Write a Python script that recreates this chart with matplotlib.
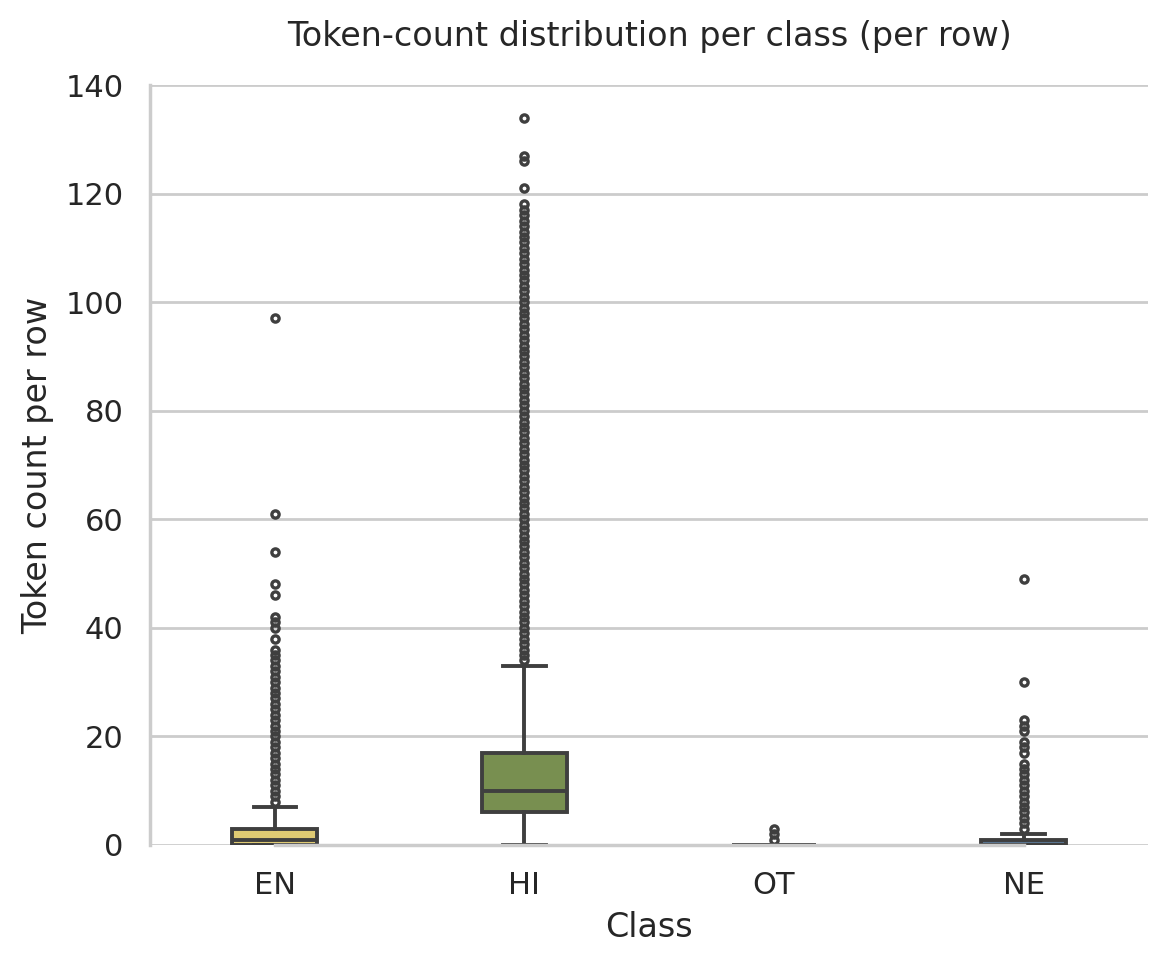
import matplotlib
matplotlib.use("Agg")
import matplotlib.pyplot as plt


classes = ["EN", "HI", "OT", "NE"]
q1 = [0, 6, 0, 0]
medians = [1, 10, 0, 0]
q3 = [3, 17, 0, 1]
whisker_lo = [0, 0, 0, 0]
whisker_hi = [7, 33, 0, 2]

fliers_en = [8, 9, 10, 11, 12, 13, 14, 15, 16, 17, 18, 19, 20, 21, 22, 23, 24, 25,
             26, 27, 28, 29, 30, 31, 32, 33, 34, 35, 36, 38, 40, 41, 42, 46, 48, 54,
             61, 97]
fliers_hi = [34, 35, 36, 37, 38, 39, 40, 41, 42, 43, 44, 45, 46, 47, 48, 49, 50, 51,
             52, 53, 54, 55, 56, 57, 58, 59, 60, 61, 62, 63, 64, 65, 66, 67, 68, 69,
             70, 71, 72, 73, 74, 75, 76, 77, 78, 79, 80, 81, 82, 83, 84, 85, 86, 87,
             88, 89, 90, 91, 92, 93, 94, 95, 96, 97, 98, 99, 100, 101, 102, 103, 104,
             105, 106, 107, 108, 109, 110, 111, 112, 113, 114, 115, 116, 117, 118,
             121, 126, 127, 134]
fliers_ot = [1, 2, 3]
fliers_ne = [3, 4, 5, 6, 7, 8, 9, 10, 11, 12, 13, 14, 15, 17, 18, 19, 21, 22, 23,
             30, 49]
fliers = [fliers_en, fliers_hi, fliers_ot, fliers_ne]

colors = ["#dfca73", "#788f50", "#b9a0a8", "#59748f"]
line_c = "#3f3f3f"
text_c = "#262626"
grid_c = "#cccccc"

plt.rcParams["font.family"] = "DejaVu Sans"
plt.rcParams["text.color"] = text_c
plt.rcParams["axes.labelcolor"] = text_c
plt.rcParams["xtick.color"] = text_c
plt.rcParams["ytick.color"] = text_c

fig = plt.figure(figsize=(5.835, 4.83), dpi=200)
ax = fig.add_axes([0.1285, 0.1253, 0.8555, 0.7867])

stats = []
for i, name in enumerate(classes):
    stats.append(dict(label=name, med=medians[i], q1=q1[i], q3=q3[i],
                      whislo=whisker_lo[i], whishi=whisker_hi[i], fliers=fliers[i]))

lw = 1.4
bp = ax.bxp(stats, positions=range(len(classes)), widths=0.34, capwidths=0.17,
            patch_artist=True, showfliers=True,
            boxprops=dict(edgecolor=line_c, linewidth=lw),
            whiskerprops=dict(color=line_c, linewidth=lw),
            capprops=dict(color=line_c, linewidth=lw),
            medianprops=dict(color=line_c, linewidth=lw),
            flierprops=dict(marker="o", markersize=2.6, markerfacecolor="none",
                            markeredgecolor=line_c, markeredgewidth=1.2, linestyle="none"))
for patch, c in zip(bp["boxes"], colors):
    patch.set_facecolor(c)

ax.set_xlim(-0.5, 3.5)
ax.set_ylim(0, 140)
ax.set_yticks(range(0, 141, 20))
ax.set_xticks(range(len(classes)))
ax.set_xticklabels(classes)
ax.tick_params(axis="both", length=0, pad=9.5, labelsize=11)

ax.set_axisbelow(True)
ax.yaxis.grid(True, color=grid_c, linewidth=1)
ax.xaxis.grid(False)

for side in ("top", "right"):
    ax.spines[side].set_visible(False)
for side in ("left", "bottom"):
    ax.spines[side].set_color(grid_c)
    ax.spines[side].set_linewidth(1.25)
ax.spines["left"].set_bounds(0, 140)
ax.spines["bottom"].set_bounds(0, 3)

ax.set_xlabel("Class", fontsize=12)
ax.set_ylabel("Token count per row", fontsize=12)
ax.set_title("Token-count distribution per class (per row)", fontsize=12, pad=14)

fig.savefig("out.png", dpi=200)
